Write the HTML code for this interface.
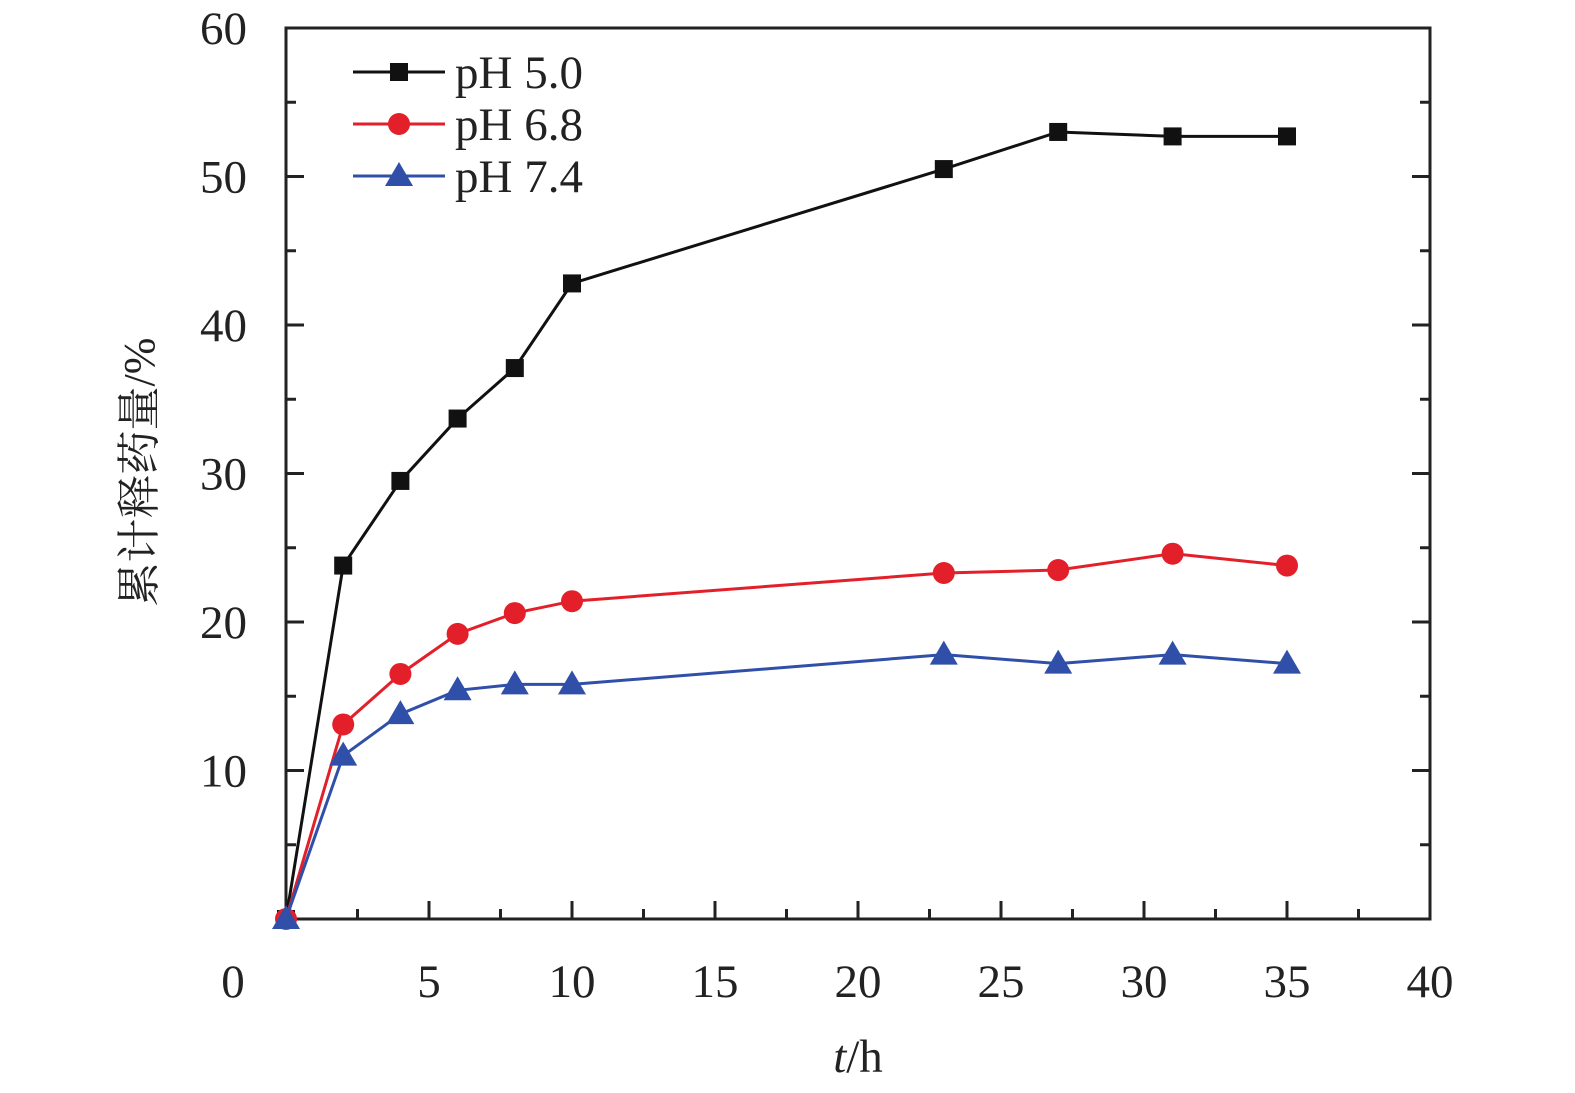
<!DOCTYPE html>
<html><head><meta charset="utf-8"><style>
body{margin:0;background:#fff;}
svg{display:block;font-family:"Liberation Serif","Noto Serif CJK SC",serif;}
</style></head><body>
<svg id="chart" width="1575" height="1093" viewBox="0 0 1575 1093" xmlns="http://www.w3.org/2000/svg"></svg>
<script>
const times=[0,2,4,6,8,10,23,27,31,35];
const ph50=[0,23.8,29.5,33.7,37.1,42.8,50.5,53.0,52.7,52.7];
const ph68=[0,13.1,16.5,19.2,20.6,21.4,23.3,23.5,24.6,23.8];
const ph74=[0,11.0,13.8,15.4,15.8,15.8,17.8,17.2,17.8,17.2];
const xTicks=[0,5,10,15,20,25,30,35,40];
const yTicks=[10,20,30,40,50,60];
const L=286,R=1430,T=28,B=919;
const X=v=>L+(v/40)*(R-L);
const Y=v=>B-(v/60)*(B-T);
const svg=document.getElementById('chart');
const NS='http://www.w3.org/2000/svg';
function mk(tag,at,parent){const e=document.createElementNS(NS,tag);for(const k in at)e.setAttribute(k,at[k]);(parent||svg).appendChild(e);return e;}
let e;
e=mk('rect',{x:L,y:T,width:R-L,height:B-T,fill:'none',stroke:'#222','stroke-width':3});


for(let v=0;v<=40;v+=2.5){const maj=v%5===0;
 e=mk('line',{x1:X(v),x2:X(v),y1:B,y2:B-(maj?18:10),stroke:'#222','stroke-width':3});
 
 }
for(let v=0;v<=60;v+=5){const maj=v%10===0;
 [[L,1],[R,-1]].forEach(([x0,d])=>{
 e=mk('line',{x1:x0,x2:x0+d*(maj?18:10),y1:Y(v),y2:Y(v),stroke:'#222','stroke-width':3});
 
 });}
xTicks.forEach(v=>{e=mk('text',{x:v===0?233:X(v),y:997,'text-anchor':'middle','font-size':47,fill:'#222'});e.textContent=v;
 
 });
yTicks.forEach(v=>{e=mk('text',{x:247,y:Y(v)+16,'text-anchor':'end','font-size':47,fill:'#222'});e.textContent=v;
 
 });
e=mk('text',{x:858,y:1072,'text-anchor':'middle','font-size':47,fill:'#222'});
e.innerHTML='<tspan font-style="italic">t</tspan>/h';


e=mk('text',{x:0,y:0,'text-anchor':'middle','font-size':44,fill:'#222',transform:'translate(154,472) rotate(-90)'});
e.textContent='累计释药量/%';


function marker(shape,cx,cy,col,g){
 if(shape==='sq')return mk('rect',{x:cx-9,y:cy-9,width:18,height:18,fill:col},g);
 if(shape==='ci')return mk('circle',{cx:cx,cy:cy,r:11,fill:col},g);
 return mk('polygon',{points:`${cx},${cy-14} ${cx-14},${cy+10} ${cx+14},${cy+10}`,fill:col},g);}
const series=[[ph50,'#111','sq','pH 5.0'],[ph68,'#e3202a','ci','pH 6.8'],[ph74,'#2f4fa8','tr','pH 7.4']];
series.forEach(([vals,col,shape,name],i)=>{
 const g=mk('g',{});
 
 
 e=mk('polyline',{points:times.map((t,j)=>X(t)+','+Y(vals[j])).join(' '),fill:'none',stroke:col,'stroke-width':3},g);
 
 
 times.forEach((t,j)=>{e=marker(shape,X(t),Y(vals[j]),col,g);
  
  });
 const ly=72+i*52;
 const lg=mk('g',{});
 
 
 mk('line',{x1:353,x2:445,y1:ly,y2:ly,stroke:col,'stroke-width':3},lg);
 marker(shape,399,ly,col,lg);
 e=mk('text',{x:455,y:ly+16,'font-size':47,fill:'#222'},lg);e.textContent=name;
});
</script>
</body></html>
